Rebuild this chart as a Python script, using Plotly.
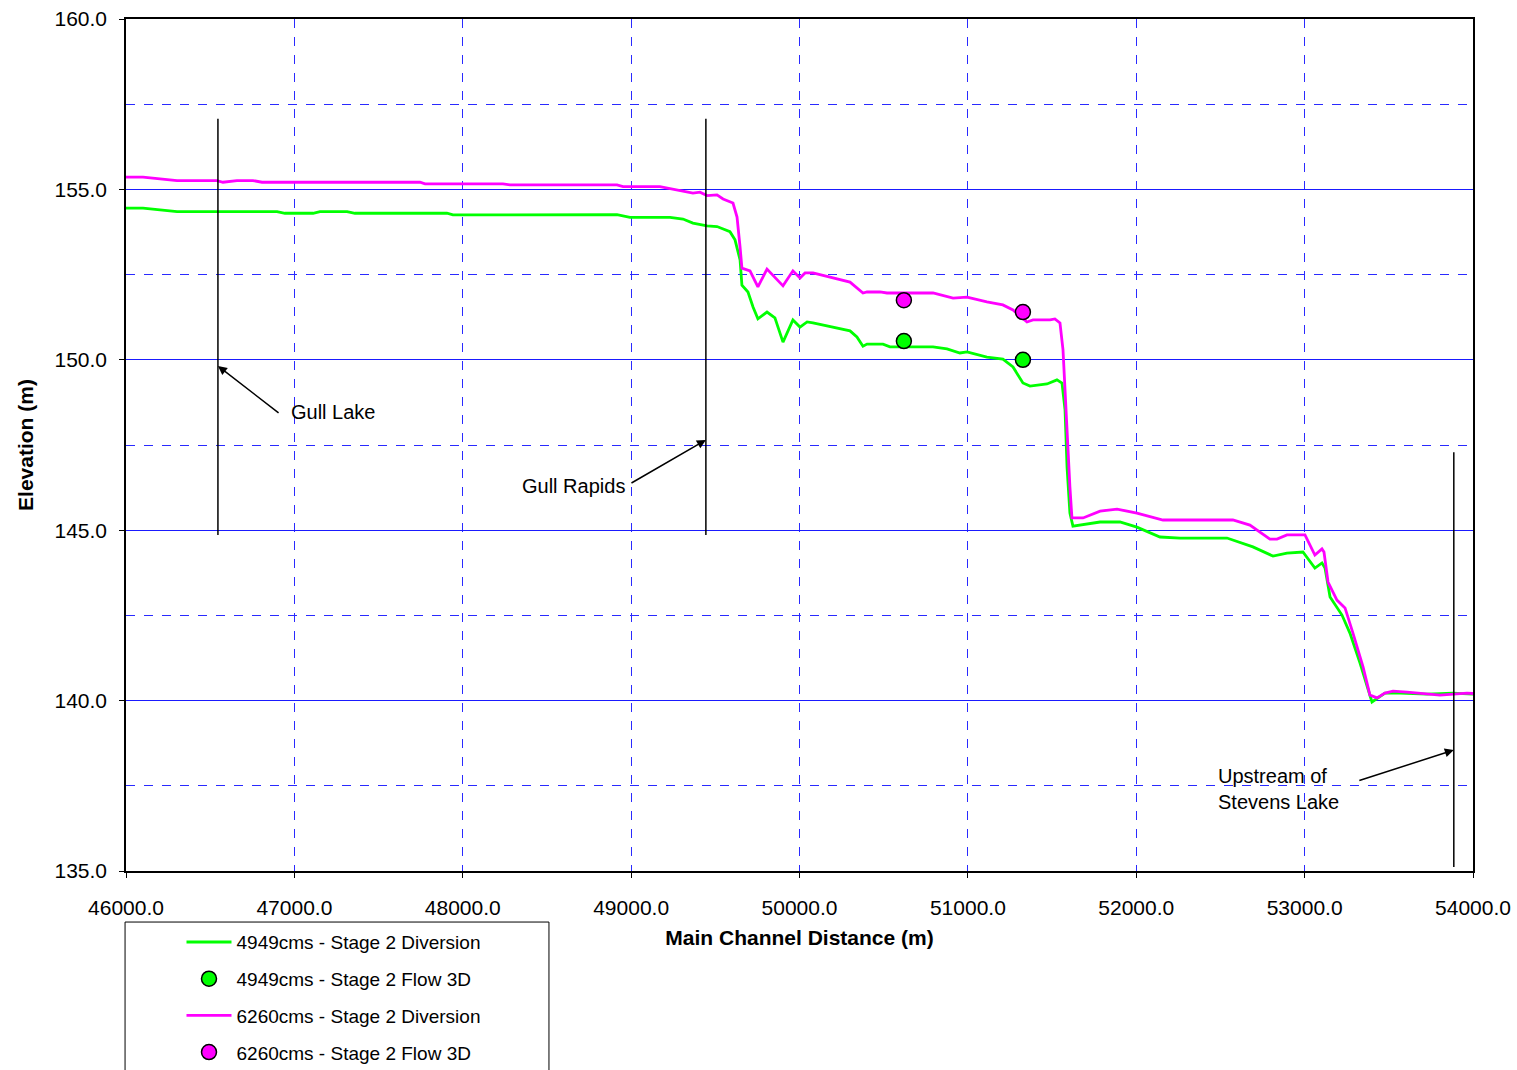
import plotly.graph_objects as go

# ---- data ----
dist_6260 = [45952, 46101, 46303, 46540, 46576, 46659, 46754, 46808, 47746, 47776,
             48239, 48281, 48916, 48952, 49171, 49308, 49367, 49409, 49451, 49510,
             49546, 49605, 49629, 49647, 49658, 49706, 49753, 49807, 49902, 49961,
             50003, 50033, 50080, 50300, 50377, 50401, 50478, 50520, 50793, 50912,
             50995, 51113, 51208, 51268, 51351, 51387, 51488, 51517, 51547, 51565,
             51589, 51606, 51618, 51684, 51785, 51886, 52004, 52159, 52574, 52675,
             52794, 52836, 52895, 53002, 53061, 53103, 53115, 53139, 53192, 53240,
             53287, 53347, 53388, 53430, 53477, 53525, 53608, 53685, 53804, 53964, 54053]
elev_6260 = [155.36, 155.36, 155.26, 155.26, 155.21, 155.26, 155.26, 155.21, 155.21, 155.16,
             155.16, 155.13, 155.13, 155.08, 155.08, 154.96, 154.89, 154.92, 154.82, 154.84,
             154.72, 154.60, 154.19, 153.31, 152.69, 152.61, 152.14, 152.66, 152.17, 152.61,
             152.40, 152.55, 152.55, 152.28, 151.96, 151.99, 151.99, 151.96, 151.96, 151.81,
             151.84, 151.70, 151.61, 151.46, 151.11, 151.17, 151.17, 151.20, 151.08, 150.29,
             147.85, 146.27, 145.36, 145.36, 145.56, 145.62, 145.50, 145.30, 145.30, 145.15,
             144.74, 144.74, 144.86, 144.86, 144.27, 144.45, 144.36, 143.48, 142.95, 142.72,
             141.98, 140.99, 140.16, 140.08, 140.22, 140.28, 140.25, 140.22, 140.16, 140.22, 140.19]

dist_4949 = [45952, 46101, 46303, 46897, 46944, 47111, 47152, 47313, 47360, 47906,
             47942, 48916, 48993, 49231, 49308, 49367, 49451, 49510, 49587, 49617,
             49647, 49658, 49694, 49724, 49753, 49807, 49854, 49902, 49961, 50003,
             50045, 50080, 50300, 50341, 50377, 50401, 50496, 50537, 50793, 50876,
             50953, 50995, 51113, 51208, 51268, 51327, 51369, 51470, 51529, 51559,
             51577, 51589, 51606, 51624, 51785, 51903, 52004, 52141, 52260, 52539,
             52693, 52812, 52895, 52990, 53061, 53103, 53121, 53151, 53222, 53269,
             53329, 53370, 53400, 53477, 53566, 53727, 53881, 54000]
elev_4949 = [154.45, 154.45, 154.35, 154.35, 154.30, 154.30, 154.35, 154.35, 154.30, 154.30,
             154.25, 154.26, 154.18, 154.18, 154.13, 154.01, 153.93, 153.91, 153.76, 153.52,
             152.93, 152.19, 151.99, 151.55, 151.20, 151.40, 151.23, 150.52, 151.17, 150.96,
             151.11, 151.08, 150.85, 150.67, 150.40, 150.46, 150.46, 150.38, 150.38, 150.32,
             150.20, 150.23, 150.08, 150.02, 149.79, 149.32, 149.23, 149.29, 149.41, 149.32,
             148.53, 146.85, 145.50, 145.12, 145.24, 145.24, 145.09, 144.80, 144.77, 144.77,
             144.51, 144.24, 144.33, 144.36, 143.89, 144.04, 143.89, 143.04, 142.51, 141.98,
             141.10, 140.46, 139.96, 140.22, 140.22, 140.19, 140.22, 140.19]

flow3d_dist = [50620, 51327]
flow3d_4949 = [150.55, 150.00]
flow3d_6260 = [151.75, 151.40]

series_names = ["4949cms - Stage 2 Diversion", "4949cms - Stage 2 Flow 3D",
                "6260cms - Stage 2 Diversion", "6260cms - Stage 2 Flow 3D"]

# location markers: name, distance, elevation range
loc_names = ["Gull Lake", "Gull Rapids", "Upstream of<br>Stevens Lake"]
loc_dist = [46546, 49444, 53886]
loc_low = [144.86, 144.86, 135.12]
loc_high = [157.07, 157.07, 147.29]
# arrow tails and label anchors (data units)
arrow_head_y = [149.82, 147.65, 138.55]
arrow_tail_x = [46915, 48993, 53316]
arrow_tail_y = [148.41, 146.36, 137.64]
label_x = [46970, 48340, 52475]
label_y = [148.47, 146.30, 137.41]

GREEN = "#00FF00"
PINK = "#FF00FF"
FONT = "Liberation Sans, Arial, sans-serif"

fig = go.Figure()
fig.add_trace(go.Scatter(x=dist_4949, y=elev_4949, mode="lines", name=series_names[0],
                         line=dict(color=GREEN, width=2.8), legendgroup="a"))
fig.add_trace(go.Scatter(x=flow3d_dist, y=flow3d_4949, mode="markers", name=series_names[1],
                         marker=dict(color=GREEN, size=15, line=dict(color="black", width=1.5)),
                         legendgroup="b"))
fig.add_trace(go.Scatter(x=dist_6260, y=elev_6260, mode="lines", name=series_names[2],
                         line=dict(color=PINK, width=2.8), legendgroup="c"))
fig.add_trace(go.Scatter(x=flow3d_dist, y=flow3d_6260, mode="markers", name=series_names[3],
                         marker=dict(color=PINK, size=15, line=dict(color="black", width=1.5)),
                         legendgroup="d"))

shapes = []
for d, lo, hi in zip(loc_dist, loc_low, loc_high):
    shapes.append(dict(type="line", xref="x", yref="y", x0=d, x1=d, y0=lo, y1=hi,
                       line=dict(color="black", width=1.5)))
# legend frame
shapes.append(dict(type="rect", xref="paper", yref="paper",
                   x0=-0.0007, x1=0.314, y0=-0.0599, y1=-0.26,
                   line=dict(color="black", width=1), fillcolor="rgba(0,0,0,0)"))

annotations = []
for d, hy, tx, ty in zip(loc_dist, arrow_head_y, arrow_tail_x, arrow_tail_y):
    annotations.append(dict(x=d, y=hy, xref="x", yref="y", ax=tx, ay=ty, axref="x", ayref="y",
                            text="", showarrow=True, arrowhead=2, arrowsize=1.2, arrowwidth=1.5,
                            arrowcolor="black", standoff=0, startstandoff=0))
for name, lx, ly in zip(loc_names, label_x, label_y):
    annotations.append(dict(x=lx, y=ly, xref="x", yref="y", text=name, showarrow=False,
                            xanchor="left", yanchor="middle", align="left",
                            font=dict(family=FONT, size=20, color="black")))

fig.update_layout(
    width=1517, height=1070,
    margin=dict(l=126, r=44, t=19, b=199, autoexpand=False),
    paper_bgcolor="white", plot_bgcolor="white",
    font=dict(family=FONT, size=20, color="black"),
    showlegend=True,
    legend=dict(x=0.0412, y=-0.0612, xref="paper", yref="paper", xanchor="left", yanchor="top",
                bgcolor="rgba(0,0,0,0)", borderwidth=0, itemwidth=45,
                traceorder="grouped", tracegroupgap=9,
                font=dict(family=FONT, size=19, color="black")),
    shapes=shapes,
    annotations=annotations,
    xaxis=dict(
        range=[46000, 54000], dtick=1000, tick0=46000, tickformat=".1f",
        showgrid=True, gridcolor="#2A2AFF", griddash="dash", gridwidth=1,
        showline=True, linecolor="black", linewidth=1.5, mirror=True,
        ticks="outside", ticklen=5, tickcolor="black", ticklabelstandoff=12,
        ticklabeloverflow="allow",
        tickfont=dict(family=FONT, size=21, color="black"),
        title=dict(text="<b>Main Channel Distance (m)</b>", standoff=12,
                   font=dict(family=FONT, size=21, color="black")),
        zeroline=False, automargin=False,
    ),
    yaxis=dict(
        range=[135, 160], dtick=5, tick0=135, tickformat=".1f",
        showgrid=True, gridcolor="#1A1AFF", gridwidth=1,
        minor=dict(dtick=2.5, tick0=135, showgrid=True, gridcolor="#2A2AFF",
                   griddash="dash", gridwidth=1, ticks=""),
        showline=True, linecolor="black", linewidth=1.5, mirror=True,
        ticks="outside", ticklen=5, tickcolor="black", ticklabelstandoff=8,
        ticklabeloverflow="allow",
        tickfont=dict(family=FONT, size=21, color="black"),
        title=dict(text="<b>Elevation (m)</b>", standoff=15,
                   font=dict(family=FONT, size=21, color="black")),
        zeroline=False, automargin=False,
    ),
)

# remove the browser's default 8px body margin so the figure fills the window exactly
fig.write_html("out.html",
               config={"displayModeBar": False},
               post_script="document.body.style.margin='0';document.body.style.overflow='hidden';")
